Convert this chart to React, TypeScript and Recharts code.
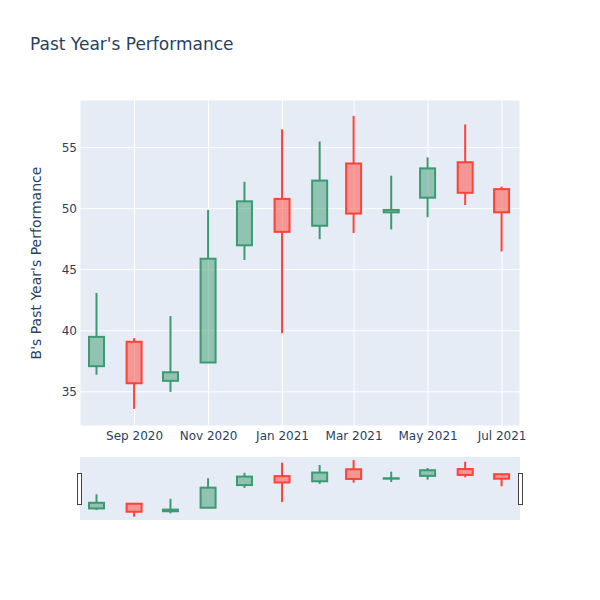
import React from "react";
import { ComposedChart, Bar, XAxis, YAxis, CartesianGrid } from "recharts";

const DAY = 86400000;

const months = [
  "2020-08-01", "2020-09-01", "2020-10-01", "2020-11-01", "2020-12-01", "2021-01-01",
  "2021-02-01", "2021-03-01", "2021-04-01", "2021-05-01", "2021-06-01", "2021-07-01",
];
const openVals = [37.1, 39.1, 35.9, 37.4, 47.0, 50.8, 48.6, 53.7, 49.7, 50.9, 53.8, 51.6];
const highVals = [43.1, 39.4, 41.2, 49.9, 52.2, 56.5, 55.5, 57.6, 52.7, 54.2, 56.9, 51.8];
const lowVals = [36.4, 33.6, 35.0, 37.4, 45.8, 39.8, 47.5, 48.0, 48.3, 49.3, 50.3, 46.5];
const closeVals = [39.5, 35.7, 36.6, 45.9, 50.6, 48.1, 52.3, 49.6, 49.9, 53.3, 51.3, 49.7];

const tickDates = ["2020-09-01", "2020-11-01", "2021-01-01", "2021-03-01", "2021-05-01", "2021-07-01"];
const yTicks = [35, 40, 45, 50, 55];
const monthNames = ["Jan", "Feb", "Mar", "Apr", "May", "Jun", "Jul", "Aug", "Sep", "Oct", "Nov", "Dec"];

const toTime = (s: string) => new Date(s + "T00:00:00Z").getTime();

const data = months.map((m, i) => ({
  t: toTime(m),
  open: openVals[i],
  high: highVals[i],
  low: lowVals[i],
  close: closeVals[i],
}));

const xDomain = [toTime("2020-08-01") - 14 * DAY, toTime("2021-07-01") + 14.8 * DAY];
const yDomain = [32.2, 58.9];
const xTicks = tickDates.map(toTime);

const INC_LINE = "#3D9970";
const INC_FILL = "rgba(61,153,112,0.5)";
const DEC_LINE = "#FF4136";
const DEC_FILL = "rgba(255,65,54,0.5)";
const TEXT = "#2a3f5f";
const FONT = '"DejaVu Sans", verdana, arial, sans-serif';

function Candle(props: any) {
  let { x, y, width, height } = props;
  const { payload } = props;
  if (x == null || y == null || height == null || !payload) return null;
  if (height < 0) {
    y = y + height;
    height = -height;
  }
  const { open, close, high, low } = payload;
  const up = close >= open;
  const line = up ? INC_LINE : DEC_LINE;
  const fill = up ? INC_FILL : DEC_FILL;
  const span = high - low || 1;
  const toY = (v: number) => y + ((high - v) / span) * height;
  const cx = x + width / 2;
  const top = toY(Math.max(open, close));
  const bot = toY(Math.min(open, close));
  return (
    <g>
      <line x1={cx} x2={cx} y1={y} y2={top} stroke={line} strokeWidth={2} />
      <line x1={cx} x2={cx} y1={bot} y2={y + height} stroke={line} strokeWidth={2} />
      <rect x={x} y={top} width={width} height={Math.max(bot - top, 0)} fill={fill} stroke={line} strokeWidth={2} />
    </g>
  );
}

const fmtTick = (t: number) => {
  const d = new Date(t);
  return `${monthNames[d.getUTCMonth()]} ${d.getUTCFullYear()}`;
};

const rangeKey = (d: any) => [d.low, d.high];

export default function App() {
  return (
    <div style={{ position: "absolute", left: 0, top: 0, width: 600, height: 600, background: "#fff", fontFamily: FONT }}>
      <div style={{ position: "absolute", left: 30, top: 32, fontSize: 17, color: TEXT, lineHeight: "24px", whiteSpace: "nowrap" }}>
        Past Year's Performance
      </div>
      <div
        style={{
          position: "absolute",
          left: 36 - 150,
          top: 263 - 10,
          width: 300,
          height: 20,
          lineHeight: "20px",
          textAlign: "center",
          fontSize: 14,
          color: TEXT,
          transform: "rotate(-90deg)",
          whiteSpace: "nowrap",
        }}
      >
        B's Past Year's Performance
      </div>

      <div style={{ position: "absolute", left: 0, top: 0 }}>
        <ComposedChart width={600} height={460} data={data} margin={{ top: 100, right: 80, bottom: 4, left: 30 }}>
          <CartesianGrid fill="#E5ECF6" stroke="#ffffff" strokeWidth={1} />
          <XAxis
            type="number"
            dataKey="t"
            domain={xDomain}
            ticks={xTicks}
            interval={0}
            tickFormatter={fmtTick}
            axisLine={false}
            tickLine={false}
            tickSize={0}
            tickMargin={5}
            height={30}
            tick={{ fill: TEXT, fontSize: 12, fontFamily: FONT }}
            allowDataOverflow
          />
          <YAxis
            type="number"
            domain={yDomain}
            ticks={yTicks}
            interval={0}
            axisLine={false}
            tickLine={false}
            tickSize={0}
            tickMargin={3}
            width={50}
            tick={{ fill: TEXT, fontSize: 12, fontFamily: FONT }}
            allowDataOverflow
          />
          <Bar dataKey={rangeKey} barSize={15} shape={<Candle />} isAnimationActive={false} />
        </ComposedChart>
      </div>

      <div style={{ position: "absolute", left: 0, top: 450 }}>
        <ComposedChart width={600} height={70} data={data} margin={{ top: 7, right: 80, bottom: 0, left: 80 }}>
          <CartesianGrid fill="#E5ECF6" horizontal={false} vertical={false} />
          <XAxis type="number" dataKey="t" domain={xDomain} hide allowDataOverflow />
          <YAxis type="number" domain={yDomain} hide allowDataOverflow />
          <Bar dataKey={rangeKey} barSize={15} shape={<Candle />} isAnimationActive={false} />
        </ComposedChart>
      </div>

      <div style={{ position: "absolute", left: 77, top: 473, width: 3, height: 30, border: "1px solid #444", background: "#fff" }} />
      <div style={{ position: "absolute", left: 518, top: 473, width: 3, height: 30, border: "1px solid #444", background: "#fff" }} />
    </div>
  );
}
